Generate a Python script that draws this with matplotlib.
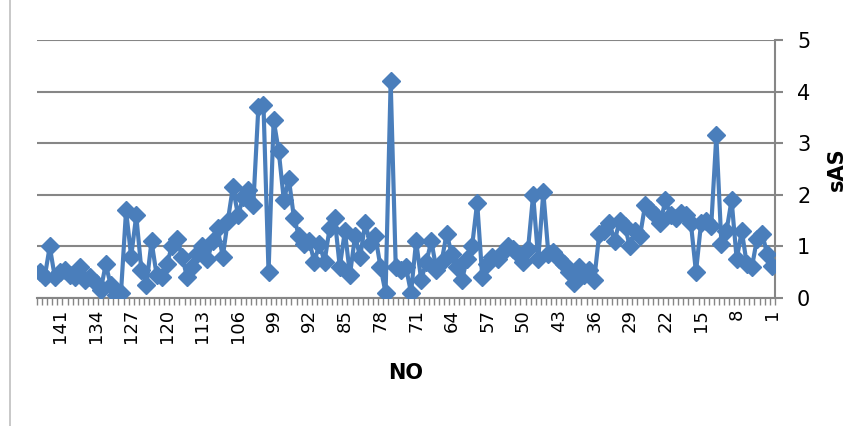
import matplotlib.pyplot as plt
from matplotlib.lines import Line2D
import numpy as np

# sAS values, NO = 1 (right) ... 145 (left)
sas = [0.62, 0.85, 1.25, 1.15, 0.6, 0.65, 1.3, 0.75, 1.9, 1.3,
       1.05, 3.15, 1.4, 1.5, 1.45, 0.5, 1.45, 1.6, 1.65, 1.55,
       1.6, 1.9, 1.45, 1.6, 1.7, 1.8, 1.2, 1.3, 1.0, 1.4,
       1.5, 1.1, 1.45, 1.3, 1.25, 0.35, 0.55, 0.45, 0.6, 0.3,
       0.5, 0.65, 0.75, 0.9, 0.85, 2.05, 0.75, 2.0, 0.95, 0.7,
       0.85, 0.95, 1.0, 0.9, 0.75, 0.8, 0.65, 0.4, 1.85, 1.0,
       0.75, 0.35, 0.6, 0.85, 1.25, 0.7, 0.55, 1.1, 0.7, 0.35,
       1.1, 0.1, 0.6, 0.55, 0.6, 4.2, 0.1, 0.6, 1.2, 1.05,
       1.45, 0.8, 1.2, 0.45, 1.3, 0.6, 1.55, 1.35, 0.7, 1.05,
       0.7, 1.1, 1.05, 1.2, 1.55, 2.3, 1.9, 2.85, 3.45, 0.5,
       3.75, 3.7, 1.8, 2.1, 1.95, 1.6, 2.15, 1.5, 0.8, 1.35,
       1.1, 0.75, 1.0, 0.85, 0.6, 0.4, 0.8, 1.15, 1.0, 0.65,
       0.4, 0.45, 1.1, 0.25, 0.55, 1.6, 0.8, 1.7, 0.1, 0.05,
       0.25, 0.65, 0.15, 0.3, 0.4, 0.35, 0.6, 0.4, 0.45, 0.55,
       0.5, 0.4, 1.0, 0.4, 0.5]
no = np.arange(1, len(sas) + 1)
tick_no = list(range(1, len(sas) + 1, 7))

fig = plt.figure(figsize=(8.67, 4.26), dpi=100)
ax = fig.add_axes([0.0427, 0.3005, 0.851, 0.6055])

grid_c = "#868686"
ax.plot(no, sas, color="#4A7EBB", lw=3, marker="D", ms=9.5,
        markerfacecolor="#4A7EBB", markeredgecolor="#4A7EBB", zorder=3)

ax.set_xlim(len(sas) + 0.5, 0.5)
ax.set_ylim(0, 5)
ax.set_yticks(range(6))
ax.yaxis.tick_right()
ax.yaxis.set_label_position("right")
ax.grid(axis="y", color=grid_c, lw=1.5)
ax.set_axisbelow(True)

for s in ["top", "left"]:
    ax.spines[s].set_visible(False)
for s in ["right", "bottom"]:
    ax.spines[s].set_color(grid_c)
    ax.spines[s].set_linewidth(1.5)

ax.tick_params(axis="y", length=6, width=1.5, color=grid_c, labelsize=15, pad=10)
ax.set_xticks(tick_no)
ax.set_xticklabels([str(t) for t in tick_no], rotation=90, fontsize=13)
ax.set_xticks(np.arange(0.5, len(sas) + 1, 1), minor=True)
ax.tick_params(axis="x", which="major", length=0, pad=8)
ax.tick_params(axis="x", which="minor", length=5, width=1, color=grid_c)

ax.set_ylabel("sAS", fontsize=15, fontweight="bold", labelpad=12)
ax.set_xlabel("NO", fontsize=15, fontweight="bold", labelpad=14)

fig.add_artist(Line2D([0.011, 0.011], [0, 1], color="#BFBFBF", lw=1.2))

fig.savefig("out.png", dpi=100)
